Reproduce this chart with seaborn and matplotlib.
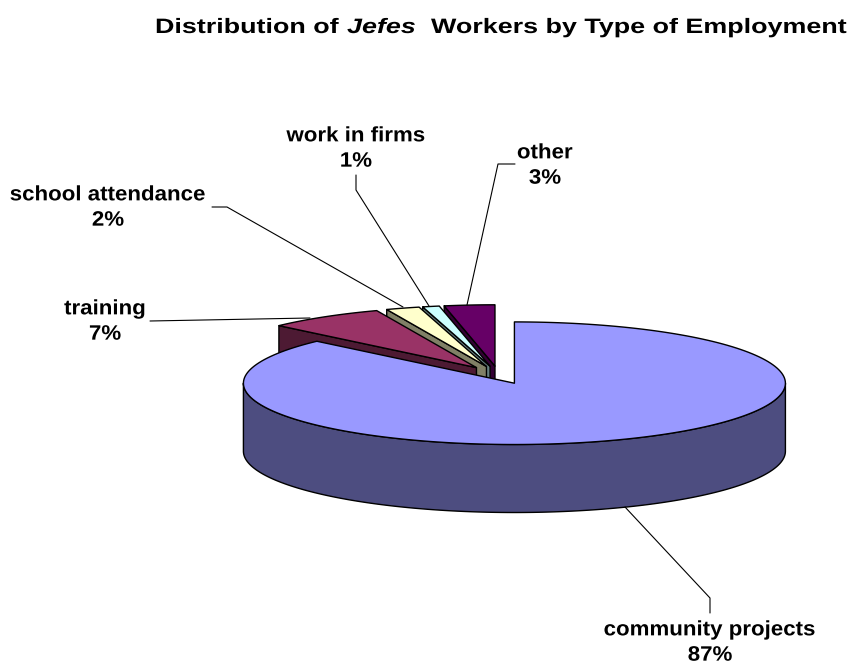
import numpy as np
import matplotlib
matplotlib.use("Agg")
import matplotlib.pyplot as plt
from matplotlib.patheffects import AbstractPathEffect
from matplotlib.transforms import Affine2D
import seaborn as sns

categories = ["community projects", "training", "school attendance", "work in firms", "other"]
values = [87, 7, 2, 1, 3]
top_colors = ["#9999FF", "#993366", "#FFFFCC", "#CCFFFF", "#660066"]
wall_colors = ["#4D4D80", "#4D1A33", "#808066", "#668080", "#330033"]

title_parts = [("Distribution of ", "normal"), ("Jefes", "italic"), ("  Workers by Type of Employment", "normal")]

# layout (pixels)
CX, CY, RX, RY, DEPTH, EXPLODE = 498.7, 375.0, 271.0, 61.3, 68.0, 0.146
FS = 15.0
TITLE_FS = 15.0
TITLE_Y = 33
LABEL_STRETCH = 1.07
TITLE_STRETCH = 1.29
label_pos = {"community projects": (710, 642.5), "training": (105, 321.5), "school attendance": (108, 207.5),
             "work in firms": (356, 148.5), "other": (545, 165.5)}
leaders = {"community projects": [(625, 507), (710, 598), (710, 613)],
           "training": [(150, 321), (310, 318)],
           "school attendance": [(212, 207), (227, 207), (403, 307)],
           "work in firms": [(356, 175), (356, 190), (429, 306)],
           "other": [(515, 164), (498, 164), (467, 305)]}


class Stretch(AbstractPathEffect):
    """Widen real text horizontally about a display-space anchor."""

    def __init__(self, x0, k):
        super().__init__()
        self.x0, self.k = x0, k

    def draw_path(self, renderer, gc, tpath, affine, rgbFace=None):
        extra = Affine2D().translate(-self.x0, 0).scale(self.k, 1).translate(self.x0, 0)
        renderer.draw_path(gc, tpath, affine + extra, rgbFace)


sns.set_theme(style="white")
plt.rcParams["font.family"] = ["Liberation Sans", "DejaVu Sans"]
tops = sns.color_palette(top_colors)
walls = sns.color_palette(wall_colors)

fig = plt.figure(figsize=(8.48, 6.65), dpi=100)
ax = fig.add_axes([0, 0, 1, 1])
ax.set_xlim(0, 848)
ax.set_ylim(665, 0)
ax.axis("off")

total = sum(values)
edges = np.cumsum([0] + values) / total * 2 * np.pi


def pt(cx, cy, t, dz=0.0):
    return cx + RX * np.sin(t), cy - RY * np.cos(t) + dz


def arc(cx, cy, t0, t1, dz=0.0):
    t = np.linspace(t0, t1, 200)
    return np.column_stack(pt(cx, cy, t, dz))


style = dict(edgecolor="black", linewidth=1.0, joinstyle="round")
# draw the exploded slices back to front, the largest slice last
for i in reversed(range(len(values))):
    t0, t1 = edges[i], edges[i + 1]
    mid = (t0 + t1) / 2
    cx = CX + RX * EXPLODE * np.sin(mid)
    cy = CY - RY * EXPLODE * np.cos(mid)
    if i == 0:
        front = arc(cx, cy, np.pi / 2, 3 * np.pi / 2)
        back = arc(cx, cy, 3 * np.pi / 2, np.pi / 2, DEPTH)
        ax.fill(*np.vstack([front, back]).T, facecolor=walls[i], zorder=1 + 2 * (len(values) - i), **style)
    else:
        c = np.array([cx, cy])
        s = np.array(pt(cx, cy, t0))
        face = np.array([c, s, s + [0, DEPTH], c + [0, DEPTH]])
        ax.fill(*face.T, facecolor=walls[i], zorder=1 + 2 * (len(values) - i), **style)
    top = np.vstack([[cx, cy], arc(cx, cy, t0, t1)])
    ax.fill(*top.T, facecolor=tops[i], zorder=2 + 2 * (len(values) - i), **style)

for cat, val in zip(categories, values):
    x, y = label_pos[cat]
    t = ax.text(x, y, f"{cat}\n{val}%", ha="center", va="center", fontsize=FS, fontweight="bold",
                color="black", linespacing=1.42, zorder=30)
    t.set_path_effects([Stretch(ax.transData.transform((x, y))[0], LABEL_STRETCH)])
    ax.plot(*np.array(leaders[cat]).T, color="black", lw=0.8, zorder=29)

renderer = fig.canvas.get_renderer()
x = 155.0
for text, fstyle in title_parts:
    t = ax.text(x, TITLE_Y, text, fontsize=TITLE_FS, fontweight="bold", fontstyle=fstyle, color="black",
                ha="left", va="baseline", zorder=30)
    t.set_path_effects([Stretch(ax.transData.transform((x, TITLE_Y))[0], TITLE_STRETCH)])
    x += t.get_window_extent(renderer).width * TITLE_STRETCH

fig.savefig("out.png", dpi=100, facecolor="white")
